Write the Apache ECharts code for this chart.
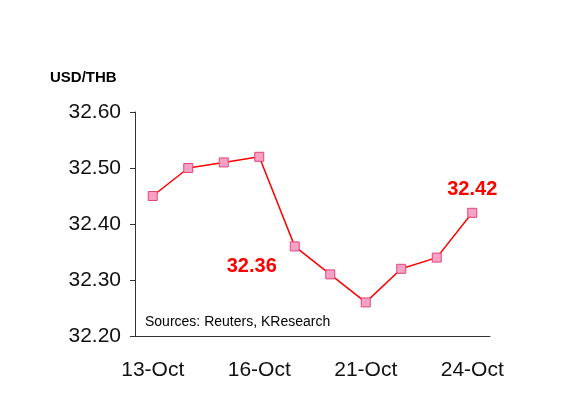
<!DOCTYPE html>
<html><head><meta charset="utf-8">
<script src="https://cdn.jsdelivr.net/npm/echarts@6/dist/echarts.min.js"></script>
<style>html,body{margin:0;background:#fff}#c{width:583px;height:420px}</style>
</head><body><div id="c"></div>
<script>
const categories = ['13-Oct','14-Oct','15-Oct','16-Oct','17-Oct','20-Oct','21-Oct','22-Oct','23-Oct','24-Oct'];
const values = [32.45,32.50,32.51,32.52,32.36,32.31,32.26,32.32,32.34,32.42];
const labelIdx = [0,3,6,9];
const chart = echarts.init(document.getElementById('c'));
const data = values.map((v,i)=>{
  if(i===4) return {value:v,label:{show:true,position:'left',offset:[-8,20]}};
  if(i===9) return {value:v,label:{show:true,position:'top',distance:8}};
  return v;
});
chart.setOption({
  animation:false,
  grid:{left:135,right:93,top:112,bottom:84},
  xAxis:{type:'category',data:categories,boundaryGap:true,
    axisLine:{lineStyle:{color:'#333'}},
    axisTick:{interval:(i)=>i%4===0,length:5,lineStyle:{color:'#333'}},
    axisLabel:{interval:(i)=>labelIdx.includes(i),fontFamily:'Liberation Sans, Arial',fontSize:21,color:'#111',margin:24}},
  yAxis:{type:'value',min:32.2,max:32.6,interval:0.1,
    axisLine:{show:true,lineStyle:{color:'#333'}},
    axisTick:{show:true,length:5,lineStyle:{color:'#333'}},
    splitLine:{show:false},
    axisLabel:{formatter:v=>v.toFixed(2),fontFamily:'Liberation Sans, Arial',fontSize:21,color:'#111',margin:14}},
  graphic:[
    {type:'text',left:50,top:70,style:{text:'USD/THB',font:'bold 15px Liberation Sans, Arial',fill:'#000'}},
    {type:'text',left:145,top:315,style:{text:'Sources: Reuters, KResearch',font:'14px Liberation Sans, Arial',fill:'#000'}}
  ],
  series:[{type:'line',data:data,symbol:'rect',symbolSize:9,
    lineStyle:{color:'#ff0000',width:1.5},
    itemStyle:{color:'#f7a1c4',borderColor:'#e0457a',borderWidth:1},
    label:{show:false,formatter:p=>p.value.toFixed(2),color:'#ff0000',fontWeight:'bold',fontSize:20,fontFamily:'Liberation Sans, Arial'}}]
});
</script></body></html>
